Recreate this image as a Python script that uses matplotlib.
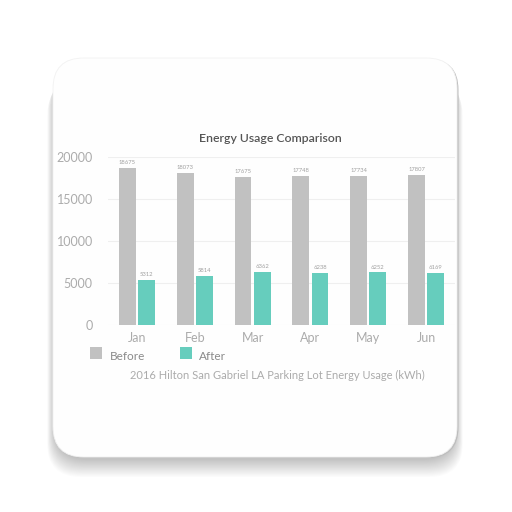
import matplotlib.pyplot as plt
import numpy as np
from matplotlib.patches import FancyBboxPatch, Rectangle

months = ["Jan", "Feb", "Mar", "Apr", "May", "Jun"]
before = [18675, 18073, 17675, 17748, 17734, 17807]
after = [5312, 5814, 6362, 6238, 6252, 6169]
yticks = [0, 5000, 10000, 15000, 20000]

gray = "#c1c1c1"
teal = "#66cdbd"
txt = "#ababab"

plt.rcParams['font.family'] = ['Lato', 'DejaVu Sans']

W = 512.0
fig = plt.figure(figsize=(5.12, 5.12), dpi=100)
fig.patch.set_facecolor("white")

def fx(px):
    return px / W

def fy(py):
    return (W - py) / W

# soft card shadow, stacked translucent layers
for i in range(20):
    grow = i * 0.9
    sh = FancyBboxPatch((fx(54 - grow * 0.4), fy(460 + grow)), fx(402 + grow * 0.8), fx(395),
                        boxstyle="round,pad=0,rounding_size=0.065",
                        transform=fig.transFigure, facecolor="black",
                        edgecolor="none", alpha=0.012, zorder=0)
    fig.add_artist(sh)

# darker rim at the bottom/right
rim = FancyBboxPatch((fx(53.5), fy(458)), fx(405), fx(399),
                     boxstyle="round,pad=0,rounding_size=0.06",
                     transform=fig.transFigure, facecolor="#bdbdbd",
                     edgecolor="none", zorder=1)
fig.add_artist(rim)

# the card itself
card = FancyBboxPatch((fx(53), fy(457)), fx(404), fx(399),
                      boxstyle="round,pad=0,rounding_size=0.06",
                      transform=fig.transFigure, facecolor="#fefefe",
                      edgecolor="#f2f2f2", linewidth=0.6, zorder=1)
fig.add_artist(card)

ax = fig.add_axes([fx(108), fy(325), fx(455 - 108), fy(157) - fy(325)])
ax.set_zorder(2)
ax.patch.set_alpha(0)

x = np.arange(len(months))
w = 0.29
off = 0.165
b1 = ax.bar(x - off, before, w, color=gray, zorder=3)
b2 = ax.bar(x + off, after, w, color=teal, zorder=3)

for rect, v in zip(b1, before):
    ax.text(rect.get_x() + rect.get_width() / 2, v + 350, str(v),
            ha="center", va="bottom", fontsize=4.2, color="#a0a0a0")
for rect, v in zip(b2, after):
    ax.text(rect.get_x() + rect.get_width() / 2, v + 350, str(v),
            ha="center", va="bottom", fontsize=4.2, color="#a0a0a0")

ax.set_xlim(-0.5, 5.5)
ax.set_ylim(0, 20000)
ax.set_yticks(yticks)
ax.set_yticklabels([str(t) for t in yticks])
ax.set_xticks(x)
ax.set_xticklabels(months)
ax.tick_params(axis="both", length=0, colors=txt, labelsize=9)
ax.tick_params(axis="y", pad=11)
ax.tick_params(axis="x", pad=5)
ax.grid(axis="y", color="#efefef", linewidth=0.8, zorder=0)
for s in ax.spines.values():
    s.set_visible(False)

fig.text(fx(270), fy(138), "Energy Usage Comparison", ha="center", va="center",
         fontsize=8.8, color="#555555", fontweight="semibold")

# legend
fig.add_artist(Rectangle((fx(90), fy(359)), fx(12), fx(12), transform=fig.transFigure,
                         facecolor=gray, edgecolor="none", zorder=3))
fig.text(fx(110), fy(356), "Before", ha="left", va="center", fontsize=8.5, color="#8a8a8a")
fig.add_artist(Rectangle((fx(180), fy(359)), fx(12), fx(12), transform=fig.transFigure,
                         facecolor=teal, edgecolor="none", zorder=3))
fig.text(fx(199), fy(356), "After", ha="left", va="center", fontsize=8.5, color="#8a8a8a")

fig.text(fx(277), fy(375), "2016 Hilton San Gabriel LA Parking Lot Energy Usage (kWh)",
         ha="center", va="center", fontsize=8, color=txt)

fig.savefig("out.png", dpi=100)
